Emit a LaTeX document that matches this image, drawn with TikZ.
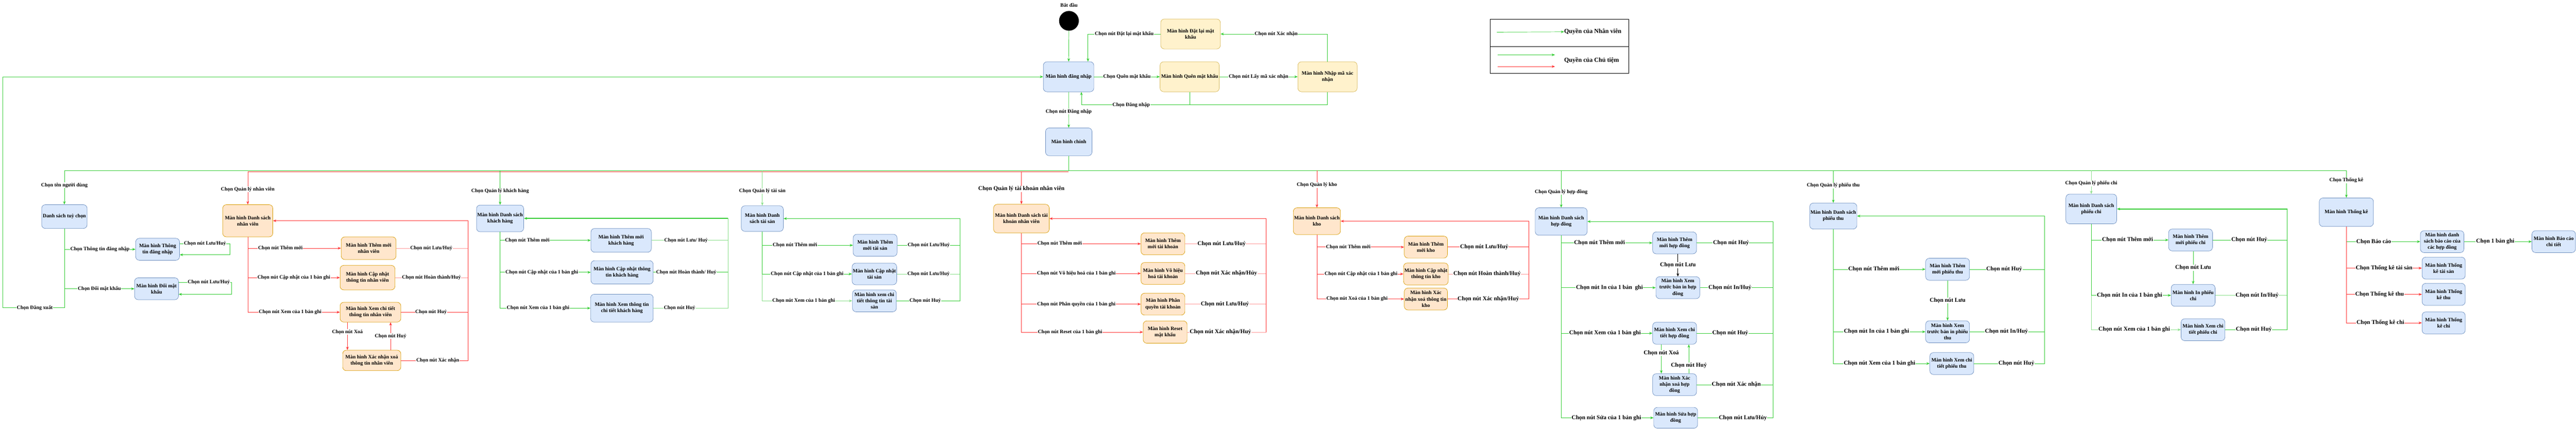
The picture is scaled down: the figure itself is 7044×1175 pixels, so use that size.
\documentclass[tikz,border=0pt]{standalone}
\usepackage{fontspec}
\setmainfont{Liberation Serif}
\usetikzlibrary{arrows.meta}

\definecolor{xanh}{RGB}{51,204,51}
\definecolor{xanhnhat}{RGB}{140,224,140}
\definecolor{do}{RGB}{255,51,51}
\definecolor{donhat}{RGB}{255,153,153}
\definecolor{lamnen}{HTML}{DAE8FC}
\definecolor{lamvien}{HTML}{6C8EBF}
\definecolor{vangnen}{HTML}{FFF2CC}
\definecolor{vangvien}{HTML}{D6B656}
\definecolor{camnen}{HTML}{FFE6CC}
\definecolor{camvien}{HTML}{D79B00}

\begin{document}
\begin{tikzpicture}[x=1pt, y=-1pt,
    every node/.style={font=\bfseries\fontsize{14}{17}\selectfont},
    mh/.style={draw, rounded corners=10pt, align=center, inner sep=2pt, line width=1pt},
    kt/.style 2 args={minimum width=#1pt, minimum height=#2pt},
    lam/.style={mh, fill=lamnen, draw=lamvien},
    vang/.style={mh, fill=vangnen, draw=vangvien},
    cam/.style={mh, fill=camnen, draw=camvien},
    xl/.style={draw=xanh, line width=1pt},
    xn/.style={draw=xanhnhat, line width=1pt},
    dl/.style={draw=do, line width=1pt},
    dn/.style={draw=donhat, line width=1pt},
    day/.style={line width=2pt},
    nhan/.style={fill=white, inner sep=1pt, text=black},
    nhanto/.style={nhan, font=\bfseries\fontsize{16}{19}\selectfont},
    chuthich/.style={font=\bfseries\fontsize{17}{20}\selectfont},
    >={Stealth[length=9pt, width=7pt]}
]
    \useasboundingbox (0,0) rectangle (7044,1175);

    \node[circle, fill=black, minimum size=54pt, inner sep=0pt] (batdau) at (2923,57) {};
    \node (nhanbatdau) at (2923,14) {Bắt đầu};
    \node[lam, kt={138}{82}] (dangnhap) at (2922,210) {Màn hình đăng nhập};
    \node[vang, kt={163}{82}] (datlai) at (3255.5,93) {Màn hình Đặt lại mật\\khẩu};
    \node[vang, kt={162}{82}] (quenmk) at (3253,210) {Màn hình Quên mật khẩu};
    \node[vang, kt={162}{82}] (nhapma) at (3630,210) {Màn hình Nhập mã xác\\nhận};
    \node[lam, kt={127}{76}] (chinh) at (2922.5,388) {Màn hình chính};

    \coordinate (vedangnhap) at (2957,287);
    \coordinate (truc) at (2922.5,467);
    \coordinate (tructrai) at (176,467);
    \coordinate (trucphai) at (6416,467);
    \coordinate (trucdo) at (677,469);
    \coordinate (trucdo2) at (2922.5,469);

    \draw[xl, ->] (batdau) -- (dangnhap);
    \draw[xl, ->] (dangnhap) -- node[nhan]{Chọn Quên mật khẩu} (quenmk);
    \draw[xl, ->] (quenmk) -- node[nhan]{Chọn nút Lấy mã xác nhận} (nhapma);
    \draw[xl, ->] (nhapma.north) |- node[nhan, pos=0.74]{Chọn nút Xác nhận} (datlai.east);
    \draw[xl, ->] (datlai.west) -| node[nhan, pos=0.25]{Chọn nút Đặt lại mật khẩu} ([xshift=53pt]dangnhap.north);
    \draw[xl] (nhapma.south) |- (vedangnhap);
    \draw[xl, ->] (quenmk.south) |- node[nhan, pos=0.77]{Chọn Đăng nhập} (vedangnhap) -- (vedangnhap |- dangnhap.south);
    \draw[xl, ->] (dangnhap) -- node[nhan, pos=0.55]{Chọn nút Đăng nhập} (chinh);
    \draw[xl] (chinh) -- (truc);
    \draw[xl] (tructrai) -- (trucphai);
    \draw[dl] (trucdo) -- (trucdo2);

    \node[lam, kt={124}{65}] (tuychon) at (176,592.5) {Danh sách tuỳ chọn};
    \node[lam, kt={120}{60}] (thongtin) at (431,682) {Màn hình Thông\\tin đăng nhập};
    \node[lam, kt={120}{60}] (doimk) at (428,790) {Màn hình Đổi mật\\khẩu};
    \coordinate (dangxuat) at (7.5,842);

    \draw[xl, ->] (tuychon.north |- tructrai) -- node[nhan, pos=0.43]{Chọn tên người dùng} (tuychon);
    \draw[xl, ->] (tuychon.south) |- node[nhan, pos=0.75]{Chọn Thông tin đăng nhập} (thongtin.west);
    \draw[xl, ->] (tuychon.south) |- node[nhan, pos=0.75]{Chọn Đổi mật khẩu} (doimk.west);
    \draw[xl, ->] (tuychon.south) |- node[nhan, pos=0.74]{Chọn Đăng xuất} (dangxuat) |- (dangnhap.west);
    \draw[xl, ->] ([yshift=15pt]thongtin.east) -- node[nhan]{Chọn nút Lưu/Huỷ} ++(138,0) |- ([yshift=-15pt]thongtin.east);
    \draw[xl, ->] ([yshift=18pt]doimk.east) -- node[nhan, pos=0.57]{Chọn nút Lưu/Huỷ} ++(144.5,0) |- ([yshift=-15pt]doimk.east);

    \node[cam, kt={137}{88}] (dsnv) at (677.5,604) {Màn hình Danh sách\\nhân viên};
    \node[cam, kt={150}{62}] (themnv) at (1008,679) {Màn hình Thêm mới\\nhân viên};
    \node[cam, kt={150}{67}] (capnhatnv) at (1005,759.5) {Màn hình Cập nhật\\thông tin nhân viên};
    \node[cam, kt={166}{54}] (xemnv) at (1013,854) {Màn hình Xem chi tiết\\thông tin nhân viên};
    \node[cam, kt={159}{56}] (xoanv) at (1016.5,986) {Màn hình Xác nhận xoá\\thông tin nhân viên};
    \coordinate (vnv) at (1279,604);

    \draw[dl, ->] (dsnv.north |- trucdo) -- node[nhan, pos=0.54]{Chọn Quản lý nhân viên} (dsnv);
    \draw[dl, ->] (dsnv.south) |- node[nhan, pos=0.675]{Chọn nút Thêm mới} (themnv.west);
    \draw[dl, ->] (dsnv.south) |- node[nhan, pos=0.75]{Chọn nút Cập nhật của 1 bản ghi} (capnhatnv.west);
    \draw[dl, ->] (dsnv.south) |- node[nhan, pos=0.73]{Chọn nút Xem của 1 bản ghi} (xemnv.west);
    \draw[dl, ->] ([xshift=-63pt]xemnv.south) -- node[nhan, pos=0.35]{Chọn nút Xoá} ([xshift=-63pt]xemnv.south |- xoanv.north);
    \draw[dl, ->] ([xshift=51.5pt]xoanv.north) -- node[nhan]{Chọn nút Huỷ} ([xshift=51.5pt]xoanv.north |- xemnv.south);
    \draw[dn] (themnv.east) -- node[nhan, pos=0.49]{Chọn nút Lưu/Huỷ} (themnv.east -| vnv);
    \draw[dn] (capnhatnv.east) -- node[nhan]{Chọn nút Hoàn thành/Huỷ} (capnhatnv.east -| vnv);
    \draw[dl] (xemnv.east) -- node[nhan, pos=0.45]{Chọn nút Huỷ} (xemnv.east -| vnv);
    \draw[dl, ->] (xoanv.east) -- node[nhan, pos=0.55]{Chọn nút Xác nhận} (xoanv.east -| vnv) -- (vnv) -- (dsnv.east);

    \node[lam, kt={129}{73}] (dskh) at (1367.5,597.5) {Màn hình Danh sách\\khách hàng};
    \node[lam, kt={165}{65}] (themkh) at (1698.5,657.5) {Màn hình Thêm mới\\khách hàng};
    \node[lam, kt={170}{64}] (capnhatkh) at (1701,745) {Màn hình Cập nhật thông\\tin khách hàng};
    \node[lam, kt={171}{76}] (xemkh) at (1700.5,843) {Màn hình Xem thông tin\\chi tiết khách hàng};
    \coordinate (vkh) at (1991,597.5);

    \draw[xl, ->] (dskh.north |- tructrai) -- node[nhan, pos=0.6]{Chọn Quản lý khách hàng} (dskh);
    \draw[xl, ->] (dskh.south) |- node[nhan, pos=0.65]{Chọn nút Thêm mới} (themkh.west);
    \draw[xl, ->] (dskh.south) |- node[nhan, pos=0.73]{Chọn nút Cập nhật của 1 bản ghi} (capnhatkh.west);
    \draw[xl, ->] (dskh.south) |- node[nhan, pos=0.71]{Chọn nút Xem của 1 bản ghi} (xemkh.west);
    \draw[xn] (themkh.east) -- node[nhan, pos=0.45]{Chọn nút Lưu/ Huỷ} (themkh.east -| vkh);
    \draw[xl] (capnhatkh.east) -- node[nhan, pos=0.44]{Chọn nút Hoàn thành/ Huỷ} (capnhatkh.east -| vkh);
    \draw[xn] (xemkh.east) -- node[nhan, pos=0.35]{Chọn nút Huỷ} (xemkh.east -| vkh) -- (vkh);
    \draw[xl, day, ->] (vkh) -- (dskh.east);

    \node[lam, kt={115}{70}] (dsts) at (2084.5,598) {Màn hình Danh\\sách tài sản};
    \node[lam, kt={120}{60}] (themts) at (2393,671) {Màn hình Thêm\\mới tài sản};
    \node[lam, kt={120}{59}] (capnhatts) at (2391,749.5) {Màn hình Cập nhật\\tài sản};
    \node[lam, kt={120}{60}] (xemts) at (2391,823) {Màn hình xem chi\\tiết thông tin tài\\sản};
    \coordinate (vts) at (2625.5,598);

    \draw[xn, ->] (dsts.north |- tructrai) -- node[nhan, pos=0.58]{Chọn Quản lý tài sản} (dsts);
    \draw[xn, ->] (dsts.south) |- node[nhan, pos=0.73]{Chọn nút Xem của 1 bản ghi} (xemts.west);
    \draw[xl, ->] (dsts.south) |- node[nhan, pos=0.68]{Chọn nút Thêm mới} (themts.west);
    \draw[xl, ->] (dsts.south) |- node[nhan, pos=0.75]{Chọn nút Cập nhật của 1 bản ghi} (capnhatts.west);
    \draw[xl, day] (dsts.south) -- (dsts.south |- capnhatts.west);
    \draw[xl] (themts.east) -- node[nhan]{Chọn nút Lưu/Huỷ} (themts.east -| vts);
    \draw[xn] (capnhatts.east) -- node[nhan]{Chọn nút Lưu/Huỷ} (capnhatts.east -| vts);
    \draw[xl] (xemts.east) -- node[nhan, pos=0.45]{Chọn nút Huỷ} (xemts.east -| vts) -- (vts);
    \draw[xl, day, ->] (vts) -- (dsts.east);

    \node[cam, kt={152}{78}] (dstk) at (2793,598) {Màn hình Danh sách tài\\khoản nhân viên};
    \node[cam, kt={120}{60}] (themtk) at (3180,667) {Màn hình Thêm\\mới tài khoản};
    \node[cam, kt={120}{60}] (vohieutk) at (3180,748) {Màn hình Vô hiệu\\hoá tài khoản};
    \node[cam, kt={120}{60}] (phanquyentk) at (3180,832) {Màn hình Phân\\quyền tài khoản};
    \node[cam, kt={120}{61}] (resettk) at (3186,908.5) {Màn hình Reset\\mật khẩu};
    \coordinate (vtk) at (3462.5,598);

    \draw[dl, ->] (dstk.north |- trucdo) -- node[nhanto, pos=0.54]{Chọn Quản lý tài khoản nhân viên} (dstk);
    \draw[dl, ->] (dstk.south) |- node[nhan, pos=0.66]{Chọn nút Thêm mới} (themtk.west);
    \draw[dl, ->] (dstk.south) |- node[nhan, pos=0.73]{Chọn nút Vô hiệu hoá của 1 bản ghi} (vohieutk.west);
    \draw[dl, ->] (dstk.south) |- node[nhan, pos=0.73]{Chọn nút Phân quyền của 1 bản ghi} (phanquyentk.west);
    \draw[dl, ->] (dstk.south) |- node[nhan, pos=0.7]{Chọn nút Reset của 1 bản ghi} (resettk.west);
    \draw[dn] (themtk.east) -- node[nhanto, pos=0.45]{Chọn nút Lưu/Huỷ} (themtk.east -| vtk);
    \draw[dn] (vohieutk.east) -- node[nhanto, pos=0.51]{Chọn nút Xác nhận/Hủy} (vohieutk.east -| vtk);
    \draw[dn] (phanquyentk.east) -- node[nhanto, pos=0.49]{Chọn nút Lưu/Huỷ} (phanquyentk.east -| vtk);
    \draw[dn] (resettk.east) -- node[nhanto, pos=0.42]{Chọn nút Xác nhận/Huỷ} (resettk.east -| vtk);
    \draw[dl] (resettk.east -| vtk) -- (vtk);
    \draw[dl, day, ->] (vtk) -- (dstk.east);

    \node[cam, kt={127}{73}] (dskho) at (3601,605) {Màn hình Danh sách\\kho};
    \node[cam, kt={118}{60}] (themkho) at (3899,676) {Màn hình Thêm\\mới kho};
    \node[cam, kt={118}{60}] (capnhatkho) at (3899,749.5) {Màn hình Cập nhật\\thông tin kho};
    \node[cam, kt={118}{60}] (xoakho) at (3899,818) {Màn hình Xác\\nhận xoá thông tin\\kho};
    \coordinate (vkho) at (4180.7,605);

    \draw[dl, ->] (dskho.north |- tructrai) -- node[nhan, pos=0.39]{Chọn Quản lý kho} (dskho);
    \draw[dl, ->] (dskho.south) |- node[nhan, pos=0.68]{Chọn nút Thêm mới} (themkho.west);
    \draw[dl, ->] (dskho.south) |- node[nhan, pos=0.755]{Chọn nút Cập nhật của 1 bản ghi} (capnhatkho.west);
    \draw[dl, ->] (dskho.south) |- node[nhan, pos=0.73]{Chọn nút Xoá của 1 bản ghi} (xoakho.west);
    \draw[dl] (themkho.east) -- node[nhanto, pos=0.45]{Chọn nút Lưu/Huỷ} (themkho.east -| vkho);
    \draw[dn] (capnhatkho.east) -- node[nhanto, pos=0.48]{Chọn nút Hoàn thành/Huỷ} (capnhatkho.east -| vkho);
    \draw[dl] (xoakho.east) -- node[nhanto]{Chọn nút Xác nhận/Huỷ} (xoakho.east -| vkho) -- (vkho);
    \draw[dl, day, ->] (vkho) -- (dskho.east);

    \node[lam, kt={142}{75}] (dshd) at (4269,606) {Màn hình Danh sách\\hợp đồng};
    \node[lam, kt={120}{60}] (themhd) at (4579,664.5) {Màn hình Thêm\\mới hợp đồng};
    \node[lam, kt={120}{60}] (intruochd) at (4588,787) {Màn hình Xem\\trước bản in hợp\\đồng};
    \node[lam, kt={120}{60}] (xemhd) at (4579,911.6) {Màn hình Xem chi\\tiết hợp đồng};
    \node[lam, kt={120}{60}] (xoahd) at (4579,1052.3) {Màn hình Xác\\nhận xoá hợp\\đồng};
    \node[lam, kt={120}{57}] (suahd) at (4582,1143) {Màn hình Sửa hợp\\đồng};
    \coordinate (vhd) at (4848,606);

    \draw[xl, ->] (dshd.north |- tructrai) -- node[nhan, pos=0.58]{Chọn Quản lý hợp đồng} (dshd);
    \draw[xl, ->] (dshd.south) |- node[nhanto, pos=0.71]{Chọn nút Thêm mới} (themhd.west);
    \draw[xl, ->] (dshd.south) |- node[nhanto, pos=0.755]{Chọn nút In của 1 bản\ \ ghi} (intruochd.west);
    \draw[xl, ->] (dshd.south) |- node[nhanto, pos=0.74]{Chọn nút Xem của 1 bản ghi} (xemhd.west);
    \draw[xl, ->] (dshd.south) |- node[nhanto, pos=0.745]{Chọn nút Sửa của 1 bản ghi} (suahd.west);
    \draw[line width=1pt, ->] (intruochd.north |- themhd.south) -- node[nhanto]{Chọn nút Lưu} (intruochd.north);
    \draw[xl, ->] ([xshift=-36.3pt]xemhd.south) -- node[nhanto, pos=0.3]{Chọn nút Xoá} ([xshift=-36.3pt]xemhd.south |- xoahd.north);
    \draw[xl, ->] ([xshift=39pt]xoahd.north) -- node[nhanto, pos=0.27]{Chọn nút Huỷ} ([xshift=39pt]xoahd.north |- xemhd.south);
    \draw[xl] (themhd.east) -- node[nhanto, pos=0.45]{Chọn nút Huỷ} (themhd.east -| vhd);
    \draw[xl] (intruochd.east) -- node[nhanto, pos=0.41]{Chọn nút In/Huỷ} (intruochd.east -| vhd);
    \draw[xl] (xemhd.east) -- node[nhanto, pos=0.44]{Chọn nút Huỷ} (xemhd.east -| vhd);
    \draw[xl] (xoahd.east) -- node[nhanto, pos=0.52]{Chọn nút Xác nhận} (xoahd.east -| vhd);
    \draw[xl, ->] (suahd.east) -- node[nhanto, pos=0.6]{Chọn nút Lưu/Hủy} (suahd.east -| vhd) -- (vhd) -- (dshd.east);

    \node[lam, kt={127}{71}] (dspt) at (5013,591) {Màn hình Danh sách\\phiếu thu};
    \node[lam, kt={120}{60}] (thempt) at (5325.5,736.6) {Màn hình Thêm\\mới phiếu thu};
    \node[lam, kt={120}{60}] (intruocpt) at (5325.5,907.6) {Màn hình Xem\\trước bản in phiếu\\thu};
    \node[lam, kt={120}{60}] (xempt) at (5337,994.5) {Màn hình Xem chi\\tiết phiếu thu};
    \coordinate (vpt) at (5591,591);

    \draw[xl, ->] (dspt.north |- tructrai) -- node[nhan, pos=0.46]{Chọn Quản lý phiếu thu} (dspt);
    \draw[xl, ->] (dspt.south) |- node[nhanto, pos=0.72]{Chọn nút Thêm mới} (thempt.west);
    \draw[xl, ->] (dspt.south) |- node[nhanto, pos=0.735]{Chọn nút In của 1 bản ghi} (intruocpt.west);
    \draw[xl, ->] (dspt.south) |- node[nhanto, pos=0.74]{Chọn nút Xem của 1 bản ghi} (xempt.west);
    \draw[xl, ->] (thempt) -- node[nhanto]{Chọn nút Lưu} (intruocpt);
    \draw[xl] (thempt.east) -- node[nhanto, pos=0.46]{Chọn nút Huỷ} (thempt.east -| vpt);
    \draw[xl] (intruocpt.east) -- node[nhanto, pos=0.49]{Chọn nút In/Huỷ} (intruocpt.east -| vpt);
    \draw[xl] (xempt.east) -- node[nhanto, pos=0.6]{Chọn nút Huỷ} (xempt.east -| vpt) -- (vpt);
    \draw[xl, day, ->] (vpt) -- (dspt.east);

    \node[lam, kt={139}{81}] (dspc) at (5718.5,571.7) {Màn hình Danh sách\\phiếu chi};
    \node[lam, kt={120}{60}] (thempc) at (5990,656.5) {Màn hình Thêm\\mới phiếu chi};
    \node[lam, kt={120}{60}] (inpc) at (5997,808) {Màn hình In phiếu\\chi};
    \node[lam, kt={120}{60}] (xempc) at (6024,902) {Màn hình Xem chi\\tiết phiếu chi};
    \coordinate (vpc) at (6254.7,571.7);

    \draw[xn, ->] (dspc.north |- tructrai) -- node[nhan, pos=0.55]{Chọn Quản lý phiếu chi} (dspc);
    \draw[xn, ->] (dspc.south) |- node[nhanto, pos=0.74]{Chọn nút Xem của 1 bản ghi} (xempc.west);
    \draw[xl, ->] (dspc.south) |- node[nhanto, pos=0.735]{Chọn nút Thêm mới} (thempc.west);
    \draw[xl, ->] (dspc.south) |- node[nhanto, pos=0.74]{Chọn nút In của 1 bản ghi} (inpc.west);
    \draw[xl, ->] (inpc.north |- thempc.south) -- node[nhanto]{Chọn nút Lưu} (inpc.north);
    \draw[xl] (thempc.east) -- node[nhanto, pos=0.49]{Chọn nút Huỷ} (thempc.east -| vpc);
    \draw[xn] (inpc.east) -- node[nhanto, pos=0.58]{Chọn nút In/Huỷ} (inpc.east -| vpc);
    \draw[xl] (xempc.east) -- node[nhanto, pos=0.46]{Chọn nút Huỷ} (xempc.east -| vpc) -- (vpc);
    \draw[xl, day, ->] (vpc) -- (dspc.east);

    \node[lam, kt={148}{78}] (thongke) at (6416,580.6) {Màn hình Thống kê};
    \node[lam, kt={119}{60}] (baocao) at (6678,661) {Màn hình danh\\sách báo cáo của\\các hợp đồng};
    \node[lam, kt={119}{60}] (baocaoct) at (6983,661) {Màn hình Báo cáo\\chi tiết};
    \node[lam, kt={118}{60}] (tktaisan) at (6682,733.5) {Màn hình Thống\\kê tài sản};
    \node[lam, kt={118}{60}] (tkthu) at (6682,805.3) {Màn hình Thống\\kê thu};
    \node[lam, kt={118}{60}] (tkchi) at (6682,883.3) {Màn hình Thống\\kê chi};

    \draw[xl, ->] (trucphai) -- node[nhan, pos=0.36]{Chọn Thống kê} (thongke);
    \draw[xl, ->] (thongke.south) |- node[nhanto, pos=0.685]{Chọn Báo cáo} (baocao.west);
    \draw[dl, ->] (thongke.south) |- node[nhanto, pos=0.75]{Chọn Thống kê tài sản} (tktaisan.west);
    \draw[dl, ->] (thongke.south) |- node[nhanto, pos=0.72]{Chọn Thống kê thu} (tkthu.west);
    \draw[dl, ->] (thongke.south) |- node[nhanto, pos=0.725]{Chọn Thống kê chi} (tkchi.west);
    \draw[xl, ->] (baocao) -- node[nhanto, pos=0.46]{Chọn 1 bản ghi} (baocaoct);

    \node[draw, line width=1pt, minimum width=379pt, minimum height=75pt] (hangnv) at (4263.5,89.5) {};
    \node[draw, line width=1pt, minimum width=379pt, minimum height=73pt] (hangct) at (4263.5,163.5) {};
    \node[chuthich, anchor=west, inner sep=0pt] (chunv) at (4277,87) {Quyền của Nhân viên};
    \node[chuthich] (chuct) at (4352,165) {Quyền của Chủ tiệm};
    \coordinate (mnv) at (4093,88);
    \coordinate (mct1) at (4095,150);
    \coordinate (mct2) at (4252,150);
    \coordinate (mct3) at (4095,182);
    \coordinate (mct4) at (4252,182);
    \draw[xl, ->] (mnv) -- (chunv.west);
    \draw[xl, ->] (mct1) -- (mct2);
    \draw[dl, ->] (mct3) -- (mct4);

\end{tikzpicture}
\end{document}
